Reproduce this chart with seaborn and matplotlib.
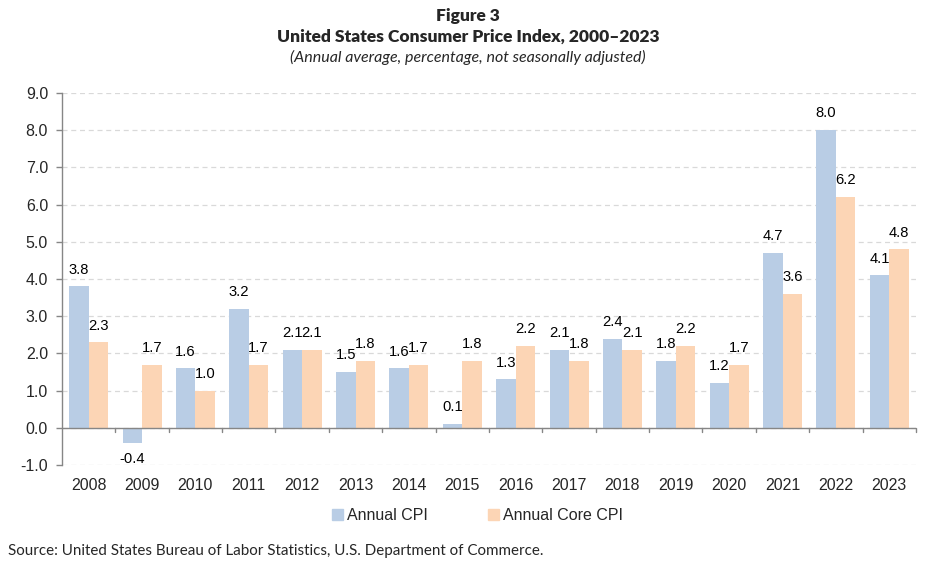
import matplotlib
matplotlib.use("Agg")
import matplotlib.pyplot as plt
import seaborn as sns
import pandas as pd
import numpy as np

years = ["2008", "2009", "2010", "2011", "2012", "2013", "2014", "2015",
         "2016", "2017", "2018", "2019", "2020", "2021", "2022", "2023"]
annual_cpi = [3.8, -0.4, 1.6, 3.2, 2.1, 1.5, 1.6, 0.1, 1.3, 2.1, 2.4, 1.8, 1.2, 4.7, 8.0, 4.1]
core_cpi = [2.3, 1.7, 1.0, 1.7, 2.1, 1.8, 1.7, 1.8, 2.2, 1.8, 2.1, 2.2, 1.7, 3.6, 6.2, 4.8]
series_names = ["Annual CPI", "Annual Core CPI"]
colors = ["#B9CDE5", "#FCD5B5"]

df = pd.DataFrame({
    "Year": years * 2,
    "Value": annual_cpi + core_cpi,
    "Series": [series_names[0]] * len(years) + [series_names[1]] * len(years),
})

sns.set_theme(style="white")
plt.rcParams["font.family"] = ["Liberation Sans", "DejaVu Sans"]

fig = plt.figure(figsize=(9.36, 5.76), dpi=100)
ax = fig.add_axes([0.0662, 0.1927, 0.9124, 0.6458])

sns.barplot(data=df, x="Year", y="Value", hue="Series", hue_order=series_names,
            palette=colors, width=0.73, gap=0, saturation=1, linewidth=0,
            edgecolor="none", ax=ax, zorder=3)

for cont in ax.containers:
    ax.bar_label(cont, fmt="%.1f", padding=7, fontsize=10.6, color="#000000")

ax.set_ylim(-1.0, 9.0)
ax.set_xlim(-0.5, len(years) - 0.5)
ax.set_yticks(np.arange(-1.0, 9.01, 1.0))
ax.set_yticklabels([f"{v:.1f}" for v in np.arange(-1.0, 9.01, 1.0)], fontsize=11.5)
ax.set_xlabel("")
ax.set_ylabel("")

ax.yaxis.grid(True, color="#D9D9D9", linestyle=(0, (4, 3)), linewidth=0.9, zorder=0)
ax.xaxis.grid(False)
for s in ["top", "right", "bottom"]:
    ax.spines[s].set_visible(False)
ax.spines["left"].set_color("#868686")
ax.spines["left"].set_linewidth(1.0)
ax.tick_params(axis="y", length=4, width=1, color="#868686", direction="out", pad=6, labelsize=11.5, left=True)
ax.tick_params(axis="x", length=0, pad=9, labelsize=11.5)

# zero line with small category boundary ticks
ax.axhline(0, color="#868686", linewidth=1.0, zorder=4)
bounds = np.arange(len(years) + 1) - 0.5
for b in bounds[1:]:
    ax.plot([b, b], [0, -0.12], color="#868686", linewidth=1.0, zorder=4, clip_on=False)

leg = ax.get_legend()
if leg is not None:
    leg.remove()
handles = [plt.Rectangle((0, 0), 1, 1, color=c) for c in colors]
fig.legend(handles, series_names, loc="center", bbox_to_anchor=(0.51, 0.105), ncol=2,
           frameon=False, fontsize=11.5, handlelength=0.65, handleheight=0.65,
           handletextpad=0.25, columnspacing=3.8)

title_font = ["Lato", "DejaVu Sans"]
fig.text(0.5, 0.972, "Figure 3", ha="center", va="center", fontsize=12.5,
         fontweight="heavy", family=title_font)
fig.text(0.5, 0.937, "United States Consumer Price Index, 2000\u20132023", ha="center",
         va="center", fontsize=12.5, fontweight="heavy", family=title_font)
fig.text(0.5, 0.901, "(Annual average, percentage, not seasonally adjusted)", ha="center",
         va="center", fontsize=11.5, style="italic", family=title_font)
fig.text(0.009, 0.043, "Source: United States Bureau of Labor Statistics, U.S. Department of Commerce.",
         ha="left", va="center", fontsize=10.9, family=title_font)

fig.savefig("out.png", dpi=100)
